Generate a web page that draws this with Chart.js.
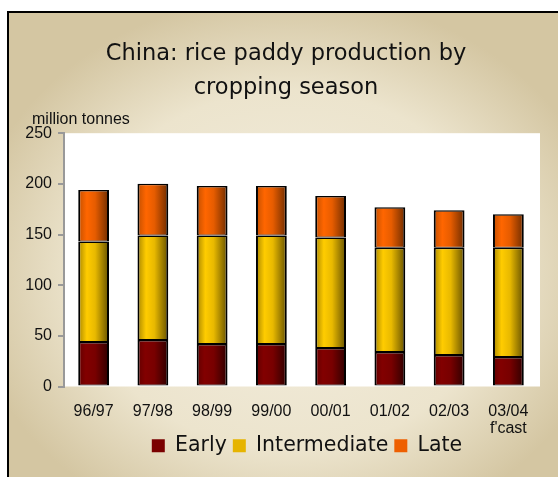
<!DOCTYPE html>
<html>
<head>
<meta charset="utf-8">
<script src="https://cdn.jsdelivr.net/npm/chart.js@4"></script>
<style>
html, body { margin: 0; padding: 0; background: #fff; }
canvas { display: block; }
</style>
</head>
<body>
<canvas id="chart" width="558" height="477"></canvas>
<script>
var seasons = ["96/97", "97/98", "98/99", "99/00", "00/01", "01/02", "02/03", ["03/04", "f'cast"]];
var early = [44, 46, 42, 42, 38, 34, 31, 29];
var intermediate = [99, 103, 107, 107, 109, 103, 106, 108];
var late = [51, 51, 49, 49, 41, 40, 37, 33];
var yMax = 250;
var yStep = 50;
var unitLabel = "million tonnes";

var barWidth = 0.52;
var swatch = ['#7a0000', '#e6b400', '#ee5f00'];

// horizontal shading so each column looks like a cylinder
const shade = (stops, solid) => (ctx) => {
  const chart = ctx.chart;
  const xs = chart.scales.x;
  if (ctx.type !== 'data' || !chart.chartArea || !xs) return solid;
  const cx = xs.getPixelForValue(ctx.dataIndex);
  const half = xs.width / seasons.length * barWidth / 2;
  const g = chart.ctx.createLinearGradient(cx - half, 0, cx + half, 0);
  stops.forEach(s => g.addColorStop(s[0], s[1]));
  return g;
};

const nudge = (box, dx, dy) => {
  box.left += dx; box.right += dx;
  box.top += dy; box.bottom += dy;
};

const frame = {
  id: 'frame',
  afterLayout(chart) {
    chart.boxes.forEach(b => {
      if (b.options && b.options.text === unitLabel) nudge(b, 8, 0);
    });
    nudge(chart.titleBlock, 5, 0);
    nudge(chart.legend, 6, -6);
  },
  beforeDraw(chart) {
    const ctx = chart.ctx;
    const a = chart.chartArea;
    ctx.save();
    ctx.fillStyle = '#fff';
    ctx.fillRect(0, 0, chart.width, chart.height);
    ctx.beginPath();
    ctx.rect(8, 12, chart.width - 8, chart.height - 12);
    ctx.clip();
    ctx.translate(290, 270);
    ctx.scale(1, 0.85);
    const g = ctx.createRadialGradient(0, 0, 40, 0, 0, 325);
    g.addColorStop(0, '#f2ecdc');
    g.addColorStop(0.6, '#ece4cd');
    g.addColorStop(1, '#d4c6a2');
    ctx.fillStyle = g;
    ctx.fillRect(-400, -400, 800, 800);
    ctx.restore();
    ctx.save();
    ctx.fillStyle = '#000';
    ctx.fillRect(7, 11, 2, chart.height - 11);
    ctx.fillRect(7, 11, chart.width - 7, 2);
    ctx.fillStyle = '#fff';
    ctx.fillRect(a.left, a.top, 540 - a.left, a.bottom - a.top);
    ctx.restore();
  }
};

var edge = { top: 1.5, bottom: 1, left: 2, right: 2 };

new Chart("chart", {
  type: "bar",
  data: {
    labels: seasons,
    datasets: [
      {
        label: "Early",
        data: early,
        backgroundColor: shade([[0, '#620000'], [0.25, '#820000'], [0.55, '#780000'], [1, '#2e0000']], swatch[0]),
        borderColor: '#000',
        borderWidth: edge,
        borderSkipped: false
      },
      {
        label: "Intermediate",
        data: intermediate,
        backgroundColor: shade([[0, '#a88600'], [0.28, '#ffcc00'], [0.55, '#e8b900'], [1, '#665100']], swatch[1]),
        borderColor: '#000',
        borderWidth: edge,
        borderSkipped: false
      },
      {
        label: "Late",
        data: late,
        backgroundColor: shade([[0, '#c24f00'], [0.28, '#ff6600'], [0.55, '#e65c00'], [1, '#6e2c00']], swatch[2]),
        borderColor: '#000',
        borderWidth: edge,
        borderSkipped: false
      }
    ]
  },
  options: {
    responsive: false,
    animation: false,
    layout: { padding: { top: 12, left: 24, right: 20, bottom: 5 } },
    datasets: { bar: { barPercentage: barWidth, categoryPercentage: 1 } },
    plugins: {
      title: {
        display: true,
        text: ["China: rice paddy production by", "cropping season"],
        color: '#111',
        font: { family: 'DejaVu Sans', size: 22.5, weight: 'normal', lineHeight: 34 / 22.5 },
        padding: { top: 25, bottom: 5 }
      },
      subtitle: {
        display: true,
        text: unitLabel,
        align: 'start',
        color: '#111',
        font: { family: 'Liberation Sans', size: 16, lineHeight: 1.2 },
        padding: { top: 0, bottom: 4 }
      },
      legend: {
        position: 'bottom',
        fullSize: false,
        labels: {
          color: '#111',
          boxWidth: 13,
          boxHeight: 13,
          padding: 6,
          font: { family: 'DejaVu Sans', size: 20.5, lineHeight: 1 },
          generateLabels: (chart) => {
            const items = Chart.defaults.plugins.legend.labels.generateLabels(chart);
            items.forEach((it, i) => {
              it.fillStyle = swatch[i];
              it.lineWidth = 0;
              it.strokeStyle = 'rgba(0,0,0,0)';
            });
            return items;
          }
        }
      },
      tooltip: { enabled: false }
    },
    scales: {
      x: {
        stacked: true,
        afterFit: (s) => { s.height = 49; },
        grid: { display: false, drawTicks: false },
        border: { display: false },
        ticks: { color: '#111', padding: 17, font: { family: 'Liberation Sans', size: 16, lineHeight: 17 / 16 } }
      },
      y: {
        stacked: true,
        min: 0,
        max: yMax,
        afterFit: (s) => { s.width = 40; },
        border: { color: '#999', width: 2 },
        grid: { drawOnChartArea: false, color: '#999', lineWidth: 2, tickLength: 6 },
        ticks: { stepSize: yStep, color: '#111', padding: 6, font: { family: 'Liberation Sans', size: 16 } }
      }
    }
  },
  plugins: [frame]
});
</script>
</body>
</html>
